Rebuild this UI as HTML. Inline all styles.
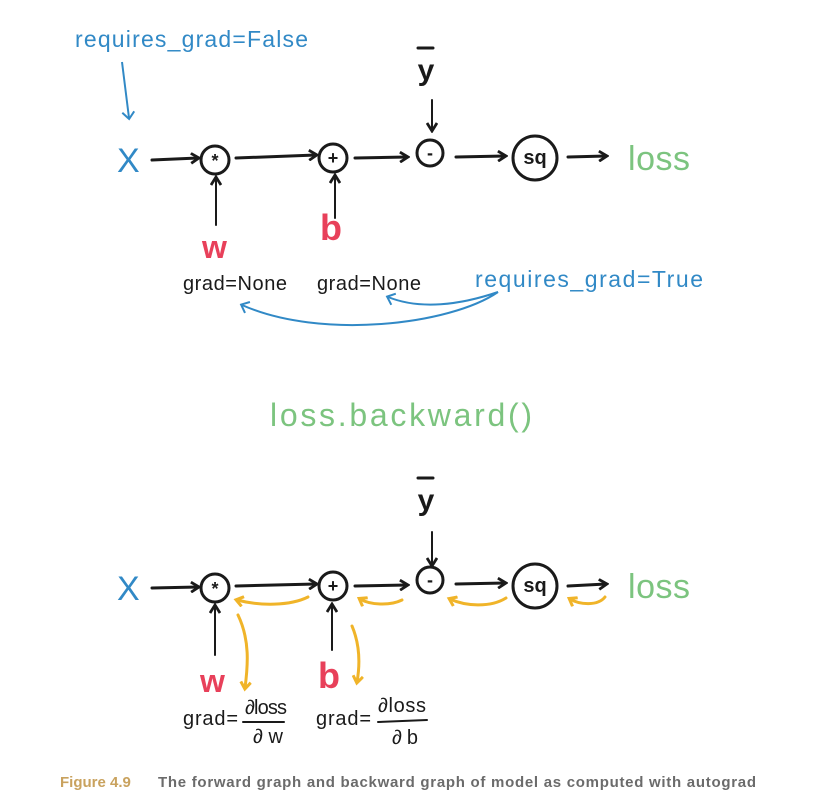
<!DOCTYPE html>
<html><head><meta charset="utf-8"><style>
html,body{margin:0;padding:0;background:#fff;}
svg{display:block}
text{font-family:"Liberation Sans",sans-serif}
</style></head><body>
<svg width="825" height="811" viewBox="0 0 825 811" xmlns="http://www.w3.org/2000/svg">
<defs>
<marker id="ak" markerWidth="12" markerHeight="12" refX="9" refY="6" orient="auto" markerUnits="userSpaceOnUse"><path d="M2,1 L10,6 L2,11" fill="none" stroke="#1a1a1a" stroke-width="2.8"/></marker>
<marker id="ab" markerWidth="14" markerHeight="14" refX="7" refY="7" orient="auto" markerUnits="userSpaceOnUse"><path d="M1,1 L8,7 L1,13" fill="none" stroke="#3189c6" stroke-width="2"/></marker>
<marker id="ay" markerWidth="12" markerHeight="12" refX="7" refY="6" orient="auto" markerUnits="userSpaceOnUse"><path d="M1,1 L8,6 L1,11" fill="none" stroke="#f0b429" stroke-width="3"/></marker>
</defs>
<g fill="none" stroke="#1a1a1a" stroke-width="3" stroke-linecap="round">
<!-- top -->
<line x1="152" y1="160" x2="198" y2="158" marker-end="url(#ak)"/>
<circle cx="215" cy="160" r="14"/>
<line x1="236" y1="158" x2="316" y2="155" marker-end="url(#ak)"/>
<circle cx="333" cy="158" r="14"/>
<line x1="355" y1="158" x2="407" y2="157" marker-end="url(#ak)"/>
<circle cx="430" cy="153" r="13"/>
<line x1="456" y1="157" x2="505" y2="156" marker-end="url(#ak)"/>
<circle cx="535" cy="158" r="22"/>
<line x1="568" y1="157" x2="606" y2="156" marker-end="url(#ak)"/>
<line x1="432" y1="100" x2="432" y2="130" marker-end="url(#ak)" stroke-width="2"/>
<line x1="216" y1="225" x2="216" y2="178" marker-end="url(#ak)" stroke-width="2"/>
<line x1="335" y1="218" x2="335" y2="176" marker-end="url(#ak)" stroke-width="2"/>
<line x1="418" y1="48" x2="433" y2="48" stroke-width="3"/>
<!-- bottom -->
<line x1="152" y1="588" x2="198" y2="587" marker-end="url(#ak)"/>
<circle cx="215" cy="588" r="14"/>
<line x1="236" y1="586" x2="316" y2="584" marker-end="url(#ak)"/>
<circle cx="333" cy="586" r="14"/>
<line x1="355" y1="586" x2="407" y2="585" marker-end="url(#ak)"/>
<circle cx="430" cy="580" r="13"/>
<line x1="456" y1="584" x2="505" y2="583" marker-end="url(#ak)"/>
<circle cx="535" cy="586" r="22"/>
<line x1="568" y1="586" x2="606" y2="584" marker-end="url(#ak)"/>
<line x1="432" y1="532" x2="432" y2="565" marker-end="url(#ak)" stroke-width="2"/>
<line x1="215" y1="655" x2="215" y2="606" marker-end="url(#ak)" stroke-width="2"/>
<line x1="332" y1="650" x2="332" y2="605" marker-end="url(#ak)" stroke-width="2"/>
<line x1="418" y1="478" x2="433" y2="478" stroke-width="3"/>
<line x1="243" y1="722" x2="284" y2="722" stroke-width="2"/>
<line x1="378" y1="722" x2="427" y2="720" stroke-width="2"/>
</g>
<!-- node symbols -->
<g font-size="18" font-weight="bold" fill="#1a1a1a" text-anchor="middle">
<text x="215" y="167">*</text><text x="333" y="164">+</text><text x="430" y="159">-</text>
<text x="535" y="164" font-size="20">sq</text>
<text x="215" y="595">*</text><text x="333" y="592">+</text><text x="430" y="586">-</text>
<text x="535" y="592" font-size="20">sq</text>
</g>
<g font-size="30" fill="#1a1a1a" text-anchor="middle" font-weight="bold">
<text x="426" y="80">y</text>
<text x="426" y="510">y</text>
</g>
<!-- blue -->
<g fill="#3189c6">
<text x="75" y="47" font-size="23" textLength="233">requires_grad=False</text>
<text x="117" y="172" font-size="34">X</text>
<text x="117" y="600" font-size="34">X</text>
<text x="475" y="287" font-size="23" textLength="228">requires_grad=True</text>
</g>
<g fill="none" stroke="#3189c6" stroke-width="2">
<path d="M122,62 L129,118" marker-end="url(#ab)"/>
<path d="M498,292 C450,325 320,340 242,305" marker-end="url(#ab)"/>
<path d="M498,292 C460,305 420,310 388,297" marker-end="url(#ab)"/>
</g>
<!-- green -->
<g fill="#7cc47f">
<text x="628" y="170" font-size="34" textLength="62">loss</text>
<text x="628" y="598" font-size="34" textLength="62">loss</text>
<text x="270" y="426" font-size="32" textLength="262">loss.backward()</text>
</g>
<!-- red -->
<g fill="#e8405a" font-weight="bold">
<text x="202" y="258" font-size="32">w</text>
<text x="320" y="240" font-size="36">b</text>
<text x="200" y="692" font-size="32">w</text>
<text x="318" y="688" font-size="36">b</text>
</g>
<!-- black labels -->
<g fill="#1a1a1a" font-size="20">
<text x="183" y="290" textLength="104">grad=None</text>
<text x="317" y="290" textLength="104">grad=None</text>
<text x="183" y="725" textLength="55">grad=</text>
<text x="245" y="714" textLength="42">∂loss</text>
<text x="253" y="743" textLength="30">∂w</text>
<text x="316" y="725" textLength="55">grad=</text>
<text x="378" y="712" textLength="48">∂loss</text>
<text x="392" y="744" textLength="26">∂b</text>
</g>
<!-- yellow -->
<g fill="none" stroke="#f0b429" stroke-width="3" stroke-linecap="round">
<path d="M308,597 C290,606 260,606 237,600" marker-end="url(#ay)"/>
<path d="M402,600 C390,606 370,605 360,599" marker-end="url(#ay)"/>
<path d="M506,598 C490,608 465,606 450,599" marker-end="url(#ay)"/>
<path d="M605,597 C598,606 580,605 570,599" marker-end="url(#ay)"/>
<path d="M238,615 C250,640 248,665 245,688" marker-end="url(#ay)"/>
<path d="M352,626 C360,645 360,665 357,682" marker-end="url(#ay)"/>
</g>
<!-- caption -->
<text x="60" y="787" font-size="15" font-weight="bold" fill="#c9a25e">Figure 4.9</text>
<text x="158" y="787" font-size="15" font-weight="bold" fill="#6b6b6b" textLength="598">The forward graph and backward graph of model as computed with autograd</text>
</svg>
</body></html>
